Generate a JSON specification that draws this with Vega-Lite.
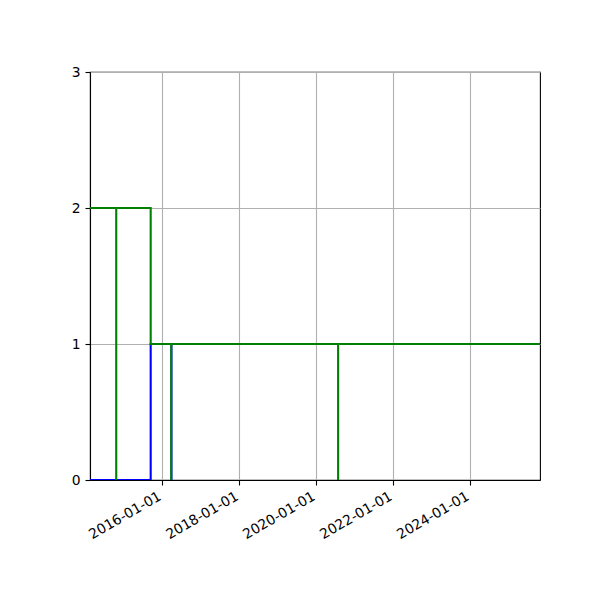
{
  "$schema": "https://vega.github.io/schema/vega-lite/v6.json",
  "autosize": {"type": "none"},
  "padding": {"left": 90, "top": 72, "right": 60, "bottom": 120},
  "width": 450,
  "height": 408,
  "background": "white",
  "datasets": {
    "blue": [
      {"i": 0, "date": "2014-02-14", "value": 0},
      {"i": 1, "date": "2015-09-13", "value": 1},
      {"i": 2, "date": "2016-03-28", "value": 0},
      {"i": 3, "date": "2016-03-28", "value": 1},
      {"i": 4, "date": "2025-10-25", "value": 1}
    ],
    "green": [
      {"i": 0, "date": "2014-02-14", "value": 2},
      {"i": 1, "date": "2014-10-21", "value": 0},
      {"i": 2, "date": "2014-10-21", "value": 2},
      {"i": 3, "date": "2015-09-13", "value": 1},
      {"i": 4, "date": "2016-03-26", "value": 0},
      {"i": 5, "date": "2016-03-26", "value": 1},
      {"i": 6, "date": "2020-07-27", "value": 0},
      {"i": 7, "date": "2020-07-27", "value": 1},
      {"i": 8, "date": "2025-10-25", "value": 1}
    ]
  },
  "encoding": {
    "x": {
      "field": "date", "type": "temporal", "title": null,
      "scale": {
        "type": "utc",
        "domain": [
          {"year": 2014, "month": 2, "date": 14, "utc": true},
          {"year": 2025, "month": 10, "date": 25, "utc": true}
        ]
      },
      "axis": {
        "values": [
          {"year": 2016, "month": 1, "date": 1, "utc": true},
          {"year": 2018, "month": 1, "date": 1, "utc": true},
          {"year": 2020, "month": 1, "date": 1, "utc": true},
          {"year": 2022, "month": 1, "date": 1, "utc": true},
          {"year": 2024, "month": 1, "date": 1, "utc": true}
        ],
        "format": "%Y-%m-%d",
        "labelAngle": -30,
        "labelAlign": "right",
        "labelBaseline": "top",
        "labelOffset": -6,
        "labelPadding": 4
      }
    },
    "y": {
      "field": "value", "type": "quantitative", "title": null,
      "scale": {"domain": [0, 3], "nice": false, "zero": false},
      "axis": {"values": [0, 1, 2, 3], "labelPadding": 5}
    },
    "order": {"field": "i"}
  },
  "layer": [
    {
      "data": {"name": "blue"},
      "mark": {"type": "line", "interpolate": "step-after", "color": "#0000ff", "strokeWidth": 2.1, "clip": true}
    },
    {
      "data": {"name": "green"},
      "mark": {"type": "line", "interpolate": "step-after", "color": "#008000", "strokeWidth": 2.1, "clip": true}
    }
  ],
  "config": {
    "view": {"stroke": "black", "strokeWidth": 1.1},
    "axis": {
      "grid": true,
      "gridColor": "#b0b0b0",
      "gridWidth": 1.1,
      "gridOpacity": 1,
      "domainColor": "black",
      "domainWidth": 1.1,
      "tickColor": "black",
      "tickWidth": 1.1,
      "tickSize": 5,
      "labelColor": "black",
      "labelFont": "DejaVu Sans",
      "labelFontSize": 13.9
    }
  }
}
